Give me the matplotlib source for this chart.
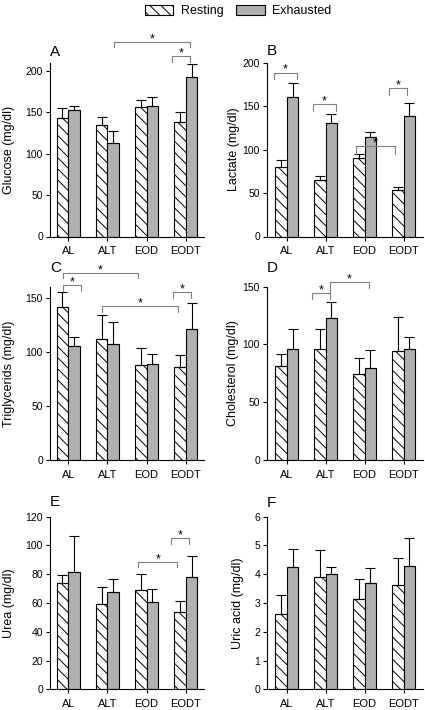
import matplotlib
matplotlib.use('Agg')
import matplotlib.pyplot as plt
from matplotlib.patches import Patch
import numpy as np

plt.rcParams['font.family'] = ['Liberation Sans', 'DejaVu Sans']
plt.rcParams['hatch.linewidth'] = 0.7

groups = ['AL', 'ALT', 'EOD', 'EODT']

# values (mean, upper error)
glucose_rest = [143, 135, 156, 138]
glucose_rest_err = [12, 9, 9, 12]
glucose_exh = [153, 113, 158, 193]
glucose_exh_err = [5, 15, 10.5, 16]

lactate_rest = [80, 65, 90, 53]
lactate_rest_err = [8, 5, 5, 3.5]
lactate_exh = [160, 131, 115, 139]
lactate_exh_err = [16.5, 10, 5, 15]

trig_rest = [141, 112, 88, 85.5]
trig_rest_err = [14, 22, 15, 11]
trig_exh = [105.5, 107, 89, 121]
trig_exh_err = [8.3, 20, 9.3, 24.3]

chol_rest = [81, 96.5, 74.5, 94.5]
chol_rest_err = [11, 17, 14, 29]
chol_exh = [96.5, 123, 80, 96.5]
chol_exh_err = [16.5, 13.5, 15.6, 10]

urea_rest = [73.7, 59, 69, 54]
urea_rest_err = [5.8, 12.2, 10.9, 7.2]
urea_exh = [81.8, 67.9, 61, 78.3]
urea_exh_err = [25, 8.5, 8.6, 14.6]

uric_rest = [2.62, 3.92, 3.15, 3.64]
uric_rest_err = [0.65, 0.92, 0.68, 0.94]
uric_exh = [4.24, 4.0, 3.71, 4.3]
uric_exh_err = [0.63, 0.24, 0.49, 0.97]

W, H = 425, 710
fig = plt.figure(figsize=(W / 100, H / 100), dpi=100)

gray = '#b0b0b0'
bw = 0.3
hatch = '\\\\\\'

# panel layout in pixels: (top, bottom) per row, (left, width, xmin, xmax) per column
rows = [(62.7, 236.5), (286.7, 460), (516.7, 689.3)]
cols = [(50, 154, -0.467, 3.467), (267, 156, -0.506, 3.5)]

panels = [
    dict(letter='A', label='Glucose (mg/dl)', rest=glucose_rest, rerr=glucose_rest_err,
         exh=glucose_exh, eerr=glucose_exh_err, ylim=210, ticks=[0, 50, 100, 150, 200],
         row=0, col=0, letter_y=52, label_x=15,
         brackets=[(1.166, 3.105, 235, 6, 6), (2.64, 3.105, 218, 7, 7)]),
    dict(letter='B', label='Lactate (mg/dl)', rest=lactate_rest, rerr=lactate_rest_err,
         exh=lactate_exh, eerr=lactate_exh_err, ylim=200, ticks=[0, 50, 100, 150, 200],
         row=0, col=1, letter_y=51, label_x=240,
         brackets=[(-0.33, 0.27, 188.5, 7.6, 7.6), (0.67, 1.27, 152.3, 8, 8),
                   (1.77, 2.78, 104.2, 8.8, 8.8), (2.63, 3.08, 170.5, 7.7, 7.7)]),
    dict(letter='C', label='Triglycerids (mg/dl)', rest=trig_rest, rerr=trig_rest_err,
         exh=trig_exh, eerr=trig_exh_err, ylim=160, ticks=[0, 50, 100, 150],
         row=1, col=0, letter_y=267.5, label_x=15,
         brackets=[(-0.14, 1.79, 172.7, 5, 5), (-0.14, 0.324, 161.3, 5, 5),
                   (0.85, 2.81, 142, 5.5, 5.5), (2.68, 3.13, 154.9, 5.5, 5.5)]),
    dict(letter='D', label='Cholesterol (mg/dl)', rest=chol_rest, rerr=chol_rest_err,
         exh=chol_exh, eerr=chol_exh_err, ylim=150, ticks=[0, 50, 100, 150],
         row=1, col=1, letter_y=267.5, label_x=239,
         brackets=[(0.66, 1.11, 144.3, 5.2, 5.2), (1.11, 2.12, 153.8, 9.5, 5.2)]),
    dict(letter='E', label='Urea (mg/dl)', rest=urea_rest, rerr=urea_rest_err,
         exh=urea_exh, eerr=urea_exh_err, ylim=120, ticks=[0, 20, 40, 60, 80, 100, 120],
         row=2, col=0, letter_y=502.5, label_x=15,
         brackets=[(1.79, 2.79, 88.7, 4, 4), (2.62, 3.09, 105, 4, 4)]),
    dict(letter='F', label='Uric acid (mg/dl)', rest=uric_rest, rerr=uric_rest_err,
         exh=uric_exh, eerr=uric_exh_err, ylim=6, ticks=[0, 1, 2, 3, 4, 5, 6],
         row=2, col=1, letter_y=503, label_x=244, brackets=[]),
]

x = np.arange(len(groups))
zeros = np.zeros(len(groups))

for p in panels:
    top, bottom = rows[p['row']]
    left, width, x0, x1 = cols[p['col']]
    ax = fig.add_axes([left / W, 1 - bottom / H, width / W, (bottom - top) / H])

    ax.bar(x - bw / 2, p['rest'], bw, color='white', edgecolor='black', lw=0.8,
           hatch=hatch, yerr=[zeros, p['rerr']], capsize=3.5,
           error_kw=dict(elinewidth=0.8, capthick=0.8, ecolor='black'))
    ax.bar(x + bw / 2, p['exh'], bw, color=gray, edgecolor='black', lw=0.8,
           yerr=[zeros, p['eerr']], capsize=3.5,
           error_kw=dict(elinewidth=0.8, capthick=0.8, ecolor='black'))

    ax.set_xlim(x0, x1)
    ax.set_ylim(0, p['ylim'])
    ax.set_yticks(p['ticks'])
    ax.set_xticks(x)
    ax.set_xticklabels(groups, fontsize=8)
    ax.tick_params(axis='y', labelsize=7.5, length=3, width=0.8, pad=2)
    ax.tick_params(axis='x', length=3, width=0.8, pad=4)
    for s in ['top', 'right']:
        ax.spines[s].set_visible(False)
    for s in ['left', 'bottom']:
        ax.spines[s].set_linewidth(0.8)

    ax.set_ylabel(p['label'], fontsize=9)
    ax.yaxis.set_label_coords((p['label_x'] - left) / width, 0.5)

    ax.text(0, 1 + (top - p['letter_y']) / (bottom - top), p['letter'],
            transform=ax.transAxes, ha='left', va='center', fontsize=11)

    # significance brackets
    for bx1, bx2, by, dl, dr in p['brackets']:
        ax.plot([bx1, bx1, bx2, bx2], [by - dl, by, by, by - dr], color='#808080',
                lw=0.8, clip_on=False)
        ax.annotate('*', ((bx1 + bx2) / 2, by), xytext=(0, 2), textcoords='offset points',
                    ha='center', va='center', fontsize=9, annotation_clip=False)

handles = [Patch(facecolor='white', edgecolor='black', hatch=hatch, lw=0.8),
           Patch(facecolor=gray, edgecolor='black', lw=0.8)]
fig.legend(handles, ['Resting', 'Exhausted'], loc='center', bbox_to_anchor=(238 / W, 1 - 11 / H),
           ncol=2, frameon=False, fontsize=9, handlelength=2.3, handleheight=0.8,
           handletextpad=0.6, columnspacing=1.0)

fig.savefig('out.png', dpi=100)
